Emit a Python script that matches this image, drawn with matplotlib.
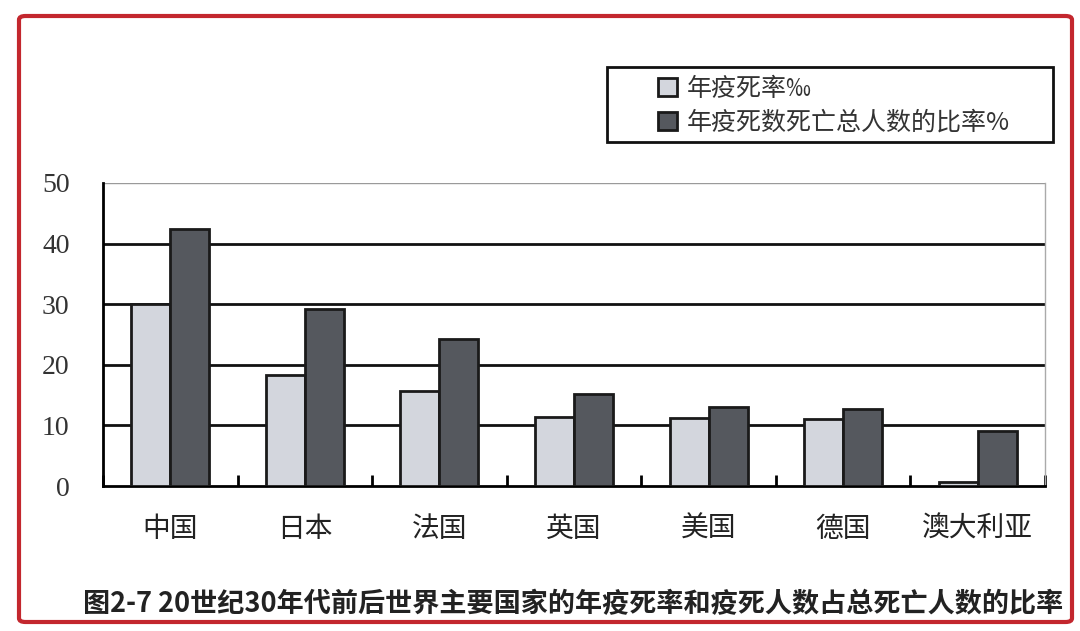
import matplotlib.pyplot as plt
import numpy as np
from matplotlib.patches import FancyBboxPatch, Rectangle

plt.rcParams['font.family'] = ['Noto Sans CJK SC', 'DejaVu Sans']

countries = ["中国", "日本", "法国", "英国", "美国", "德国", "澳大利亚"]
death_rate = [30.0, 18.3, 15.7, 11.4, 11.3, 11.1, 0.6]       # 年疫死率‰
death_share = [42.4, 29.2, 24.3, 15.2, 13.0, 12.7, 9.0]      # 疫死人数占总死亡人数的比率%
yticks = [0, 10, 20, 30, 40, 50]

fig = plt.figure(figsize=(10.8, 6.31), dpi=100)
fig.patch.set_facecolor("white")

# red frame around the whole picture
frame = FancyBboxPatch((19 / 1080, 9 / 631), 1053 / 1080, 606 / 631,
                       boxstyle="round,pad=0,rounding_size=0.006",
                       transform=fig.transFigure, fill=False,
                       edgecolor="#c3272e", linewidth=3, zorder=10)
fig.patches.append(frame)

ax = fig.add_axes([103 / 1080, 145 / 631, 942 / 1080, 303 / 631])

x = np.arange(len(countries))
w = 0.29
ax.bar(x - w / 2, death_rate, w, color="#d3d6dd", edgecolor="#1a1a1a",
       linewidth=2, zorder=3, label="年疫死率‰")
ax.bar(x + w / 2, death_share, w, color="#55585e", edgecolor="#1a1a1a",
       linewidth=2, zorder=3, label="年疫死数死亡总人数的比率%")

ax.set_xlim(-0.5, len(countries) - 0.5)
ax.set_ylim(0, 50)

# black gridlines behind the bars, top one light
for v in yticks[1:-1]:
    ax.axhline(v, color="#111111", linewidth=2, zorder=1)
ax.axhline(50, color="#9a9a9a", linewidth=1, zorder=1)

ax.spines["top"].set_visible(False)
ax.spines["right"].set_color("#aaaaaa")
ax.spines["right"].set_linewidth(1)
ax.spines["left"].set_linewidth(2)
ax.spines["bottom"].set_linewidth(2)

ax.set_yticks(yticks)
ax.set_yticklabels([str(t) for t in yticks], family="Liberation Serif",
                   fontsize=20, color="#333333")
ax.tick_params(axis="y", length=0, pad=24)

# category labels at centres, small inside ticks at boundaries
ax.set_xticks(x)
ax.set_xticklabels(countries, fontsize=20, color="#222222")
ax.tick_params(axis="x", length=0, pad=20)
ax.set_xticks(np.arange(len(countries) + 1) - 0.5, minor=True)
ax.tick_params(axis="x", which="minor", direction="in", length=8, width=2)

# legend box drawn separately so it can be wider than its entries
fig.patches.append(Rectangle((607 / 1080, 1 - 142 / 631), 446 / 1080, 75 / 631,
                             transform=fig.transFigure, fill=False,
                             edgecolor="#111111", linewidth=2, zorder=5))
handles, labels = ax.get_legend_handles_labels()
leg = fig.legend(handles, labels, loc="upper left",
                 bbox_to_anchor=(658 / 1080, 1 - 76 / 631),
                 frameon=False, fontsize=18,
                 handlelength=0.75, handleheight=0.75, borderpad=0,
                 labelspacing=0.3, handletextpad=0.4, borderaxespad=0)
for t in leg.get_texts():
    t.set_color("#333333")

fig.text(83 / 1080, 1 - 604 / 631,
         "图2-7 20世纪30年代前后世界主要国家的年疫死率和疫死人数占总死亡人数的比率",
         fontsize=19.5, fontweight="bold", color="#222222", va="center", ha="left")

fig.savefig("out.png", dpi=100)
